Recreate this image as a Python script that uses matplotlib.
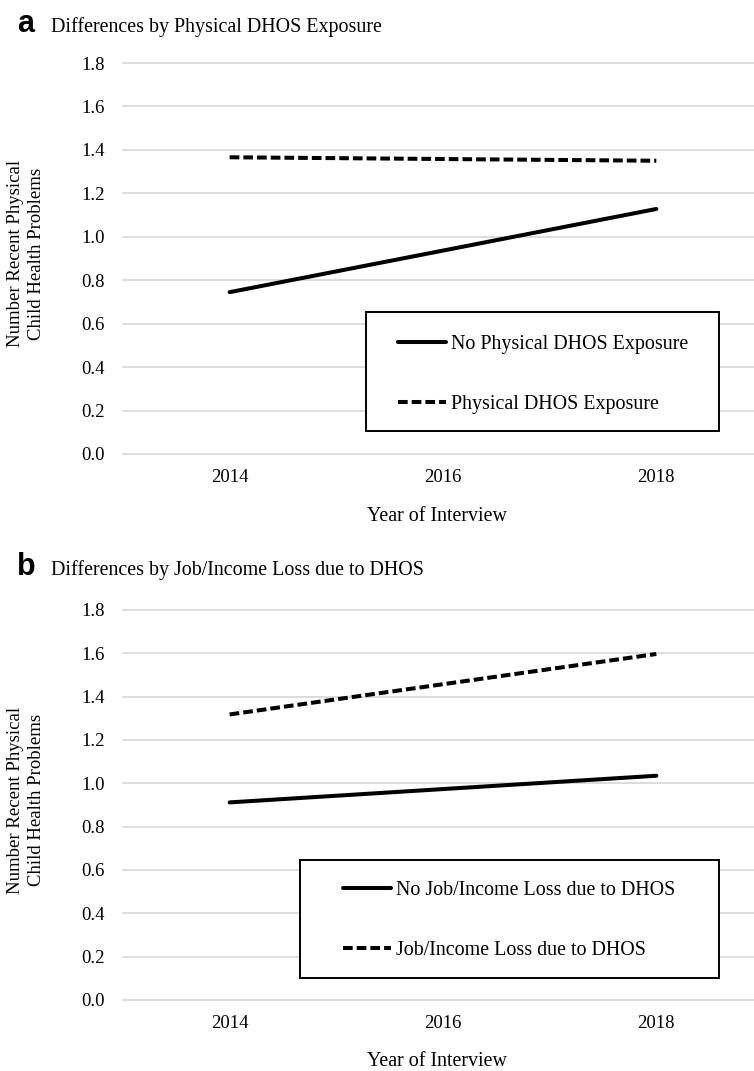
import matplotlib
matplotlib.use("Agg")
import matplotlib.pyplot as plt
from matplotlib.patches import Rectangle

# --- Data ---
YEARS = ["2014", "2016", "2018"]
DATA_YEARS = ["2014", "2018"]  # values are only reported at the two end waves

# Panel a: physical DHOS exposure
a_no_exposure = [0.745, 1.128]
a_exposure = [1.366, 1.350]

# Panel b: job/income loss due to DHOS
b_no_loss = [0.912, 1.035]
b_loss = [1.318, 1.597]

Y_TICKS = [0.0, 0.2, 0.4, 0.6, 0.8, 1.0, 1.2, 1.4, 1.6, 1.8]
Y_LABEL = "Number Recent Physical\nChild Health Problems"
X_LABEL = "Year of Interview"

# --- Layout (pixels, figure is 754 x 1071) ---
W, H = 754, 1071
SERIF = "Liberation Serif"
FS_TICK = 13.5
FS = 14.4
LW = 2.9
DASH = (2.4, 1.0)

plt.rcParams["font.family"] = SERIF

fig = plt.figure(figsize=(W / 100, H / 100), dpi=100)


def px_axes(left, top, right, bottom):
    return fig.add_axes([left / W, 1 - bottom / H, (right - left) / W, (bottom - top) / H])


def draw_panel(ax, solid, dashed, solid_label, dashed_label, box, legend_anchor):
    xpos = [YEARS.index(y) for y in DATA_YEARS]
    ax.plot(xpos, solid, color="black", lw=LW, solid_capstyle="round", label=solid_label)
    ax.plot(xpos, dashed, color="black", lw=LW, linestyle=(0, DASH),
            dash_capstyle="butt", label=dashed_label)

    ax.set_xlim(-0.5, len(YEARS) - 0.5)
    ax.set_ylim(0, 1.8)
    ax.set_xticks(range(len(YEARS)))
    ax.set_xticklabels(YEARS)
    ax.set_yticks(Y_TICKS)
    ax.set_yticklabels([f"{v:.1f}" for v in Y_TICKS])
    ax.tick_params(axis="both", length=0, labelsize=FS_TICK)
    ax.tick_params(axis="x", pad=11)
    ax.tick_params(axis="y", pad=13)
    for s in ax.spines.values():
        s.set_visible(False)
    ax.grid(axis="y", color="#d9d9d9", lw=1.3)
    ax.set_axisbelow(True)
    for gl in ax.get_ygridlines():
        gl.set_clip_on(False)

    # legend frame
    x0, y0, x1, y1 = box
    ax.add_patch(Rectangle((x0, y0), x1 - x0, y1 - y0, transform=ax.transAxes,
                           facecolor="white", edgecolor="black", lw=1.4, zorder=5))
    leg = ax.legend(loc="center left", bbox_to_anchor=legend_anchor, frameon=False,
                    fontsize=FS, borderpad=0, borderaxespad=0, handlelength=2.4,
                    handletextpad=0.25, labelspacing=2.05)
    leg.set_zorder(6)


# Panel a
ax_a = px_axes(123, 63, 763, 454)
draw_panel(ax_a, a_no_exposure, a_exposure,
           "No Physical DHOS Exposure", "Physical DHOS Exposure",
           (0.3797, 0.0588, 0.931, 0.363), (0.4297, 0.204))

# Panel b
ax_b = px_axes(123, 610, 763, 1000)
draw_panel(ax_b, b_no_loss, b_loss,
           "No Job/Income Loss due to DHOS", "Job/Income Loss due to DHOS",
           (0.2766, 0.0564, 0.931, 0.359), (0.3438, 0.203))

# panel letters and titles
for letter, title, base in [("a", "Differences by Physical DHOS Exposure", 32),
                            ("b", "Differences by Job/Income Loss due to DHOS", 575)]:
    fig.text(17 / W, 1 - base / H, letter, family="Liberation Sans", weight="bold",
             fontsize=22, va="baseline", ha="left")
    fig.text(51 / W, 1 - base / H, title, fontsize=FS, va="baseline", ha="left")

# axis labels
for ax_top, ax_bot in [(63, 454), (610, 1000)]:
    mid = (ax_top + ax_bot) / 2 - 5
    fig.text(26 / W, 1 - mid / H, Y_LABEL, rotation=90, fontsize=FS_TICK,
             ha="center", va="center", linespacing=1.25, multialignment="center")
    fig.text(437 / W, 1 - (ax_bot + 62) / H, X_LABEL, fontsize=FS,
             ha="center", va="center")

fig.savefig("out.png", dpi=100, facecolor="white")
